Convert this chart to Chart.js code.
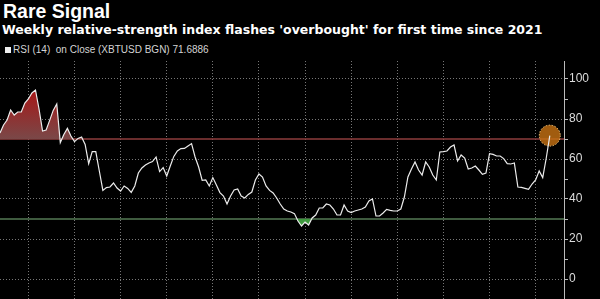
<!DOCTYPE html>
<html>
<head>
<meta charset="utf-8">
<script src="https://cdn.jsdelivr.net/npm/chart.js@4"></script>
<style>
  body { margin: 0; background: #000; }
  #wrap { position: relative; width: 600px; height: 299px; overflow: hidden; background: #000; font-family: "Liberation Sans", Arial, sans-serif; }
  .t1 { position: absolute; left: 3px; top: 2px; font-size: 19.5px; line-height: 19.5px; font-weight: bold; color: #fff; white-space: nowrap; }
  .t2 { position: absolute; left: 2px; top: 23px; font-family: "DejaVu Sans", Verdana, sans-serif; font-size: 12.5px; line-height: 13px; font-weight: bold; color: #fff; white-space: nowrap; }
  .lg { position: absolute; left: 13px; top: 45px; font-size: 10px; line-height: 10px; color: #d4d4d4; white-space: pre; }
  .sq { position: absolute; left: -8px; top: 2px; width: 6px; height: 6px; background: #eee; }
  canvas { position: absolute; left: 0; top: 0; }
</style>
</head>
<body>
<div id="wrap">
  <div class="t1">Rare Signal</div>
  <div class="t2">Weekly relative-strength index flashes 'overbought' for first time since 2021</div>
  <div class="lg"><span class="sq"></span>RSI (14)  on Close (XBTUSD BGN) 71.6886</div>
  <canvas id="c" width="600" height="299"></canvas>
</div>
<script>
// weekly RSI(14) readings, first week ending 2020-11-06
var rsi = [
  73, 77, 79.5, 84.5, 82, 83.5, 83.5, 88, 90, 93,
  94.5, 85, 74, 74.5, 79.3, 84.3, 87.5, 68.2, 72.3, 75.3,
  71.5, 68.7, 70.3, 71, 67.3, 57.7, 63.7, 63.7, 54, 44.3,
  45.7, 46, 48, 45.5, 44, 46.5, 45.3, 43.3, 46.5, 53,
  55.5, 57, 58, 58.7, 61, 53.7, 55.7, 51.5, 56.5, 61.3,
  64, 65.2, 65.3, 66.5, 67.7, 61, 56, 49.3, 49.5, 46.5,
  50.7, 47, 43.2, 41.5, 37.5, 41.5, 44.5, 45, 41.5, 40.5,
  42.3, 43.5, 49.5, 52.5, 51, 46.5, 44.3, 43, 40.5, 37.5,
  35, 34, 33.5, 32.7, 29, 26.5, 28.5, 27, 30.5, 32,
  35.5, 35.5, 37.5, 37, 35, 32, 32, 37, 34, 33.2,
  34, 34.5, 35, 36, 39, 40, 31.5, 31.5, 33, 34.8,
  34.3, 34, 34, 35, 41, 51, 55, 58.5, 54.5, 52,
  58.5, 56, 52, 49.5, 63.5, 63.7, 64, 66, 67, 59,
  62, 60.5, 55, 55.5, 56.5, 54.5, 52.3, 53, 62.7, 62.3,
  61.5, 61.5, 60.2, 57.7, 57.5, 58, 46, 45.8, 45.3, 44.8,
  47.5, 49.5, 54, 50.7, 60.5, 71.6886
];
var overbought = 70;
var oversold = 30;
var yTicks = [-10, 0, 10, 20, 30, 40, 50, 60, 70, 80, 90, 100];
var gridWeeks = ['2021-01-01', '2021-04-02', '2021-07-02', '2021-10-01', '2021-12-31', '2022-04-01',
  '2022-07-01', '2022-09-30', '2022-12-30', '2023-03-31', '2023-06-30', '2023-09-29'];

// week labels (4 empty weeks of room after the last reading)
var labels = [];
var d0 = new Date(Date.UTC(2020, 10, 6));
for (var i = 0; i < rsi.length + 4; i++) {
  labels.push(new Date(d0.getTime() + i * 7 * 86400000).toISOString().slice(0, 10));
}

var lastMarker = {
  id: 'lastMarker',
  beforeDatasetDraw: function(chart, args) {
    if (args.index !== 0) return;
    var p = chart.getDatasetMeta(0).data[rsi.length - 1];
    var ctx = chart.ctx;
    ctx.save();
    ctx.beginPath();
    ctx.arc(p.x, p.y, 10.5, 0, Math.PI * 2);
    ctx.fillStyle = 'rgba(196,112,18,0.82)';
    ctx.fill();
    ctx.setLineDash([1.5, 1.5]);
    ctx.strokeStyle = '#f3c277';
    ctx.lineWidth = 1;
    ctx.stroke();
    ctx.restore();
  }
};

var chr = document.getElementById('c').getContext('2d');
var myChart = new Chart(chr, {
  type: 'line',
  data: {
    labels: labels,
    datasets: [{
      label: 'RSI (14)',
      data: rsi,
      borderColor: '#ececec',
      borderWidth: 1.2,
      pointRadius: 0,
      tension: 0,
      fill: { value: overbought, below: 'rgba(0,0,0,0)' },
      backgroundColor: function(c) {
        var chart = c.chart;
        if (!chart.chartArea) return 'rgba(150,30,30,0.8)';
        var y = chart.scales.y;
        var g = chart.ctx.createLinearGradient(0, y.getPixelForValue(95), 0, y.getPixelForValue(overbought));
        g.addColorStop(0, '#a81616');
        g.addColorStop(1, '#7a4848');
        return g;
      },
      order: 0
    }, {
      label: 'oversold fill',
      data: rsi,
      borderWidth: 0,
      borderColor: 'rgba(0,0,0,0)',
      pointRadius: 0,
      tension: 0,
      fill: { value: oversold, above: 'rgba(0,0,0,0)' },
      backgroundColor: '#3f9a3f',
      order: 1
    }, {
      label: 'oversold',
      data: labels.map(function() { return oversold; }),
      borderColor: '#557a55',
      borderWidth: 1.5,
      pointRadius: 0,
      fill: false,
      order: 2
    }, {
      label: 'overbought',
      data: labels.map(function() { return overbought; }),
      borderColor: '#8e3c3c',
      borderWidth: 1.5,
      pointRadius: 0,
      fill: false,
      order: 3
    }]
  },
  options: {
    responsive: false,
    animation: false,
    events: [],
    layout: { padding: { top: 61, bottom: 0, left: 0, right: 0 } },
    plugins: {
      legend: { display: false },
      tooltip: { enabled: false }
    },
    scales: {
      x: {
        type: 'category',
        offset: false,
        border: { display: false, dash: [1, 2] },
        ticks: { display: false, autoSkip: false },
        grid: {
          drawTicks: false,
          color: function(c) {
            return gridWeeks.indexOf(labels[c.tick.value]) >= 0 ? '#777' : 'rgba(0,0,0,0)';
          }
        },
        afterFit: function(s) { s.height = 0; s.paddingLeft = 0; s.paddingRight = 0; }
      },
      y: {
        position: 'right',
        min: -10,
        max: 109,
        afterBuildTicks: function(s) { s.ticks = yTicks.map(function(v) { return { value: v }; }); },
        ticks: {
          color: '#dcdcdc',
          font: { family: 'Liberation Sans', size: 12 },
          padding: 1,
          callback: function(v) { return v % 20 === 0 ? v : ''; }
        },
        grid: {
          color: function(c) {
            return c.tick && c.tick.value % 20 === 0 && c.tick.value >= 0 ? '#777' : 'rgba(0,0,0,0)';
          },
          tickColor: '#bbb',
          tickLength: 4
        },
        border: { display: true, color: '#bbb', width: 1, dash: [1, 2] },
        afterFit: function(s) { s.width = 36; s.paddingTop = 0; s.paddingBottom = 0; }
      }
    }
  },
  plugins: [lastMarker]
});
</script>
</body>
</html>
